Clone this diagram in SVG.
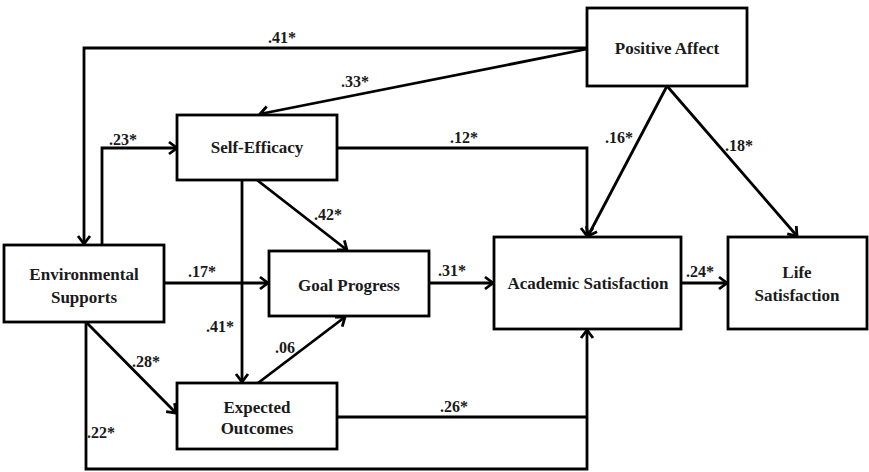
<svg xmlns="http://www.w3.org/2000/svg" width="869" height="472" viewBox="0 0 869 472">
  <style>
    .box { fill: #fff; stroke: #000; stroke-width: 2.8; }
    .name { font-family: "Liberation Serif", "Times New Roman", serif; font-weight: bold; font-size: 17px; fill: #1a1a1a; text-anchor: middle; }
    .coef { font-family: "Liberation Serif", "Times New Roman", serif; font-weight: bold; font-size: 16px; fill: #1a1a1a; text-anchor: middle; }
    .edge { fill: none; stroke: #000; stroke-width: 2.8; marker-end: url(#arrow); }
    .line { fill: none; stroke: #000; stroke-width: 2.8; }
  </style>
  <defs>
    <marker id="arrow" markerUnits="userSpaceOnUse" markerWidth="16" markerHeight="16" refX="12" refY="8" orient="auto">
      <polyline points="4,2 12,8 4,14" fill="none" stroke="#000" stroke-width="2.8" stroke-linejoin="miter"/>
    </marker>
  </defs>
  <rect width="869" height="472" fill="#fff"/>

  <g id="connectors">
    <!-- Positive Affect -> Environmental Supports (.41*) -->
    <polyline class="edge" points="587,48 84,48 84,244"/>
    <!-- Positive Affect -> Self-Efficacy (.33*) -->
    <polyline class="edge" points="587,49 260,114"/>
    <!-- Environmental Supports -> Self-Efficacy (.23*) -->
    <polyline class="edge" points="102,245 102,148 177,148"/>
    <!-- Self-Efficacy -> Academic Satisfaction (.12*) -->
    <polyline class="edge" points="337,148 587,148 587,236"/>
    <!-- Positive Affect -> Academic Satisfaction (.16*) -->
    <polyline class="edge" points="667,86 588,236"/>
    <!-- Positive Affect -> Life Satisfaction (.18*) -->
    <polyline class="edge" points="667,86 797,236"/>
    <!-- Self-Efficacy -> Goal Progress (.42*) -->
    <polyline class="edge" points="257,180 347,250"/>
    <!-- Self-Efficacy -> Expected Outcomes (.41*) -->
    <polyline class="edge" points="242,180 242,382"/>
    <!-- Environmental Supports -> Goal Progress (.17*) -->
    <polyline class="edge" points="164,283 268,283"/>
    <!-- Expected Outcomes -> Goal Progress (.06) -->
    <polyline class="edge" points="258,383 345,317"/>
    <!-- Environmental Supports -> Expected Outcomes (.28*) -->
    <polyline class="edge" points="86,322 176,413"/>
    <!-- Goal Progress -> Academic Satisfaction (.31*) -->
    <polyline class="edge" points="429,283 493,283"/>
    <!-- Academic Satisfaction -> Life Satisfaction (.24*) -->
    <polyline class="edge" points="681,283 727,283"/>
    <!-- Expected Outcomes -> Academic Satisfaction (.26*) -->
    <polyline class="line" points="337,417 587,417"/>
    <!-- Environmental Supports -> Academic Satisfaction (.22*) -->
    <polyline class="edge" points="86,322 86,469 587,469 587,330"/>
  </g>

  <g id="coefficients">
    <text class="coef" x="282" y="43">.41*</text>
    <text class="coef" x="355" y="87">.33*</text>
    <text class="coef" x="123" y="145">.23*</text>
    <text class="coef" x="464" y="143">.12*</text>
    <text class="coef" x="619" y="143">.16*</text>
    <text class="coef" x="739" y="151">.18*</text>
    <text class="coef" x="328" y="220">.42*</text>
    <text class="coef" x="202" y="277">.17*</text>
    <text class="coef" x="220" y="332">.41*</text>
    <text class="coef" x="285" y="353">.06</text>
    <text class="coef" x="146" y="367">.28*</text>
    <text class="coef" x="101" y="438">.22*</text>
    <text class="coef" x="452" y="276">.31*</text>
    <text class="coef" x="700" y="277">.24*</text>
    <text class="coef" x="454" y="412">.26*</text>
  </g>

  <g id="positive-affect">
    <rect class="box" x="587" y="8" width="160" height="78"/>
    <text class="name" x="667" y="54">Positive Affect</text>
  </g>
  <g id="self-efficacy">
    <rect class="box" x="177" y="115" width="160" height="65"/>
    <text class="name" x="257" y="153">Self-Efficacy</text>
  </g>
  <g id="environmental-supports">
    <rect class="box" x="4" y="245" width="160" height="77"/>
    <text class="name" x="84" y="280">Environmental</text>
    <text class="name" x="84" y="303">Supports</text>
  </g>
  <g id="goal-progress">
    <rect class="box" x="269" y="251" width="160" height="65"/>
    <text class="name" x="349" y="291">Goal Progress</text>
  </g>
  <g id="expected-outcomes">
    <rect class="box" x="177" y="383" width="160" height="66"/>
    <text class="name" x="257" y="413">Expected</text>
    <text class="name" x="257" y="434">Outcomes</text>
  </g>
  <g id="academic-satisfaction">
    <rect class="box" x="494" y="237" width="187" height="92"/>
    <text class="name" x="588" y="289">Academic Satisfaction</text>
  </g>
  <g id="life-satisfaction">
    <rect class="box" x="728" y="237" width="139" height="92"/>
    <text class="name" x="797" y="278">Life</text>
    <text class="name" x="797" y="301">Satisfaction</text>
  </g>
</svg>
